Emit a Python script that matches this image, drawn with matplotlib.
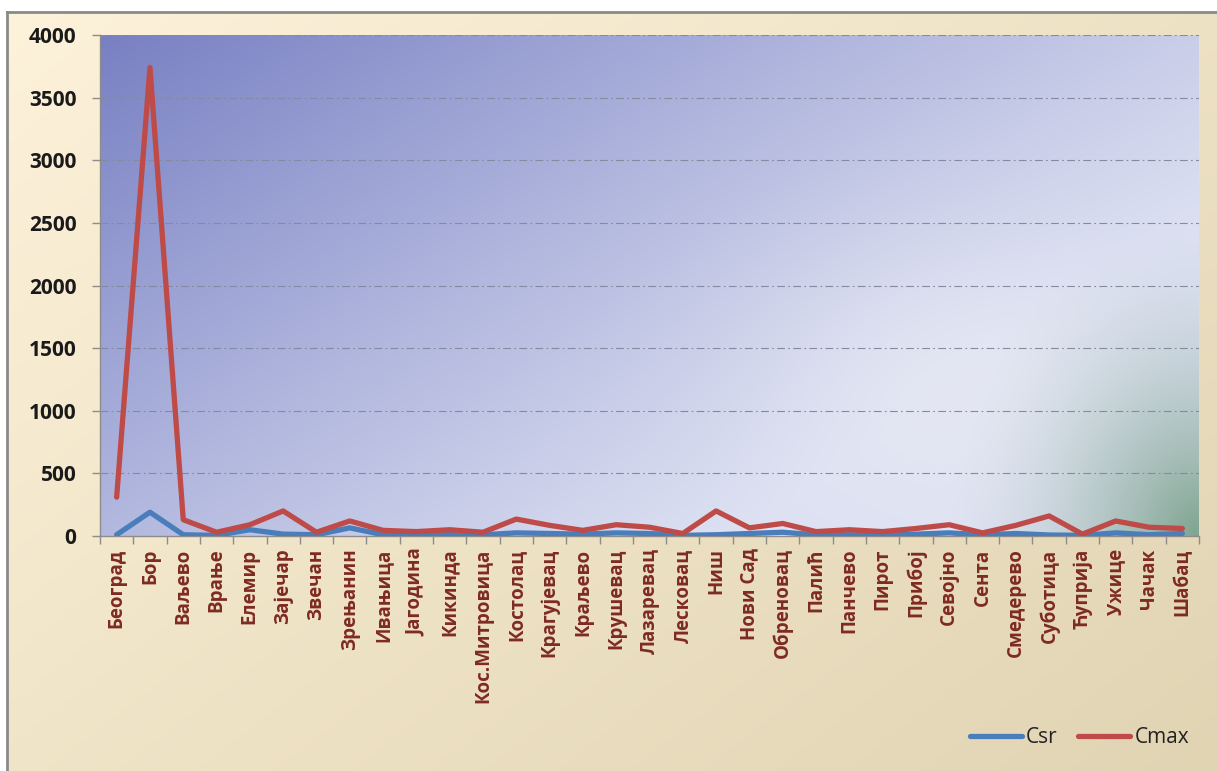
import numpy as np
import matplotlib
matplotlib.use("Agg")
import matplotlib.pyplot as plt
from matplotlib.lines import Line2D

plt.rcParams["font.family"] = ["Open Sans", "DejaVu Sans"]

# measuring stations
cities = [
    "Београд", "Бор", "Ваљево", "Врање", "Елемир", "Зајечар", "Звечан",
    "Зрењанин", "Ивањица", "Јагодина", "Кикинда", "Кос.Митровица", "Костолац",
    "Крагујевац", "Краљево", "Крушевац", "Лазаревац", "Лесковац", "Ниш",
    "Нови Сад", "Обреновац", "Палић", "Панчево", "Пирот", "Прибој", "Севојно",
    "Сента", "Смедерево", "Суботица", "Ћуприја", "Ужице", "Чачак", "Шабац",
]
csr = [
    10, 190, 10, 5, 50, 15, 10, 65, 10, 10, 15, 10, 25,
    20, 15, 25, 20, 5, 10, 20, 30, 10, 10, 10, 15, 25,
    10, 20, 8, 5, 25, 10, 20,
]
cmax = [
    310, 3740, 130, 30, 90, 200, 30, 120, 45, 35, 50, 30, 135,
    85, 45, 90, 70, 20, 200, 65, 100, 35, 50, 35, 60, 90,
    25, 85, 160, 15, 120, 70, 60,
]
y_ticks = [0, 500, 1000, 1500, 2000, 2500, 3000, 3500, 4000]

W, H = 1217, 771
fig = plt.figure(figsize=(W / 100, H / 100), dpi=100, facecolor="white")


def hex_rgb(h):
    h = h.lstrip("#")
    return np.array([int(h[i:i + 2], 16) / 255 for i in (0, 2, 4)])


# cream chart-area background with a gray frame on the left and top
x0, y1 = 7 / W, (H - 12) / H
bg = fig.add_axes([x0, 0, 1 - x0, y1], zorder=-10)
gx, gy = np.meshgrid(np.linspace(0, 1, 300), np.linspace(1, 0, 200))
t = np.clip(0.55 * gx + 0.45 * (1 - gy), 0, 1)[..., None]
img = hex_rgb("#FDF2DA") * (1 - t) + hex_rgb("#E1D4B3") * t
bg.imshow(img, extent=(0, 1, 0, 1), aspect="auto", interpolation="bilinear")
bg.set_axis_off()
fig.add_artist(Line2D([x0, x0], [0, y1], color="#8A8A8A", lw=2, transform=fig.transFigure))
fig.add_artist(Line2D([x0, 1], [y1, y1], color="#8A8A8A", lw=2, transform=fig.transFigure))

ax = fig.add_axes([100 / W, (H - 536) / H, 1099 / W, 501 / H])
ax.patch.set_alpha(0)

# plot-area fill: blue-violet fading to pale lavender, gray-green haze in the lower right
px, py = np.meshgrid(np.linspace(0, 1, 400), np.linspace(1, 0, 250))
d = np.clip(1 - (0.78 * px + 0.55 * (1 - py)), 0, 1) ** 1.1
d = d[..., None]
fill = hex_rgb("#DCE0F2") * (1 - d) + hex_rgb("#7880C3") * d
# soft pale patch right of centre
w = np.exp(-(((px - 0.78) / 0.18) ** 2 + ((py - 0.3) / 0.3) ** 2))[..., None]
fill = fill * (1 - 0.5 * w) + hex_rgb("#ECEEF4") * 0.5 * w
r = np.sqrt(((1 - px) * 1100 / 260) ** 2 + (py * 501 / 330) ** 2)
g = (0.85 * np.clip(1 - r, 0, 1) ** 1.8)[..., None]
fill = fill * (1 - g) + hex_rgb("#6F9A7E") * g
ax.imshow(fill, extent=(-0.5, len(cities) - 0.5, 0, 4000), aspect="auto",
          interpolation="bilinear", zorder=0)

x = np.arange(len(cities))
ax.plot(x, csr, color="#4A7EBB", lw=3.8, solid_joinstyle="round",
        solid_capstyle="round", label="Csr", zorder=3)
ax.plot(x, cmax, color="#BE4B48", lw=3.8, solid_joinstyle="round",
        solid_capstyle="round", label="Cmax", zorder=4)

ax.set_xlim(-0.5, len(cities) - 0.5)
ax.set_ylim(0, 4000)
ax.set_yticks(y_ticks)
ax.set_yticklabels([str(v) for v in y_ticks], fontsize=15, fontweight="bold", color="#1A1A1A")
ax.tick_params(axis="y", length=6, width=1, color="#8C8C8C", pad=11)
for v in y_ticks[1:]:
    ax.axhline(v, color="#858AA0", lw=0.8, ls=(0, (7, 3, 1.5, 3)), zorder=2)

ax.set_xticks(x)
ax.set_xticklabels(cities, rotation=90, fontsize=13.5, fontweight="bold",
                   color="#7E2A22", va="top", ha="center")
ax.tick_params(axis="x", which="major", length=0, pad=9)
ax.set_xticks(np.arange(-0.5, len(cities)), minor=True)
ax.tick_params(axis="x", which="minor", length=6, width=1, color="#8C8C8C")

for side in ("top", "right"):
    ax.spines[side].set_visible(False)
for side in ("left", "bottom"):
    ax.spines[side].set_color("#8C8C8C")
    ax.spines[side].set_linewidth(1)

fig.legend(loc="lower right", bbox_to_anchor=(1208 / W, 4 / H), ncol=2,
           frameon=False, fontsize=15, handlelength=2.5, handletextpad=0.2,
           columnspacing=1.0, labelcolor="#222222")

fig.savefig("out.png", dpi=100)
